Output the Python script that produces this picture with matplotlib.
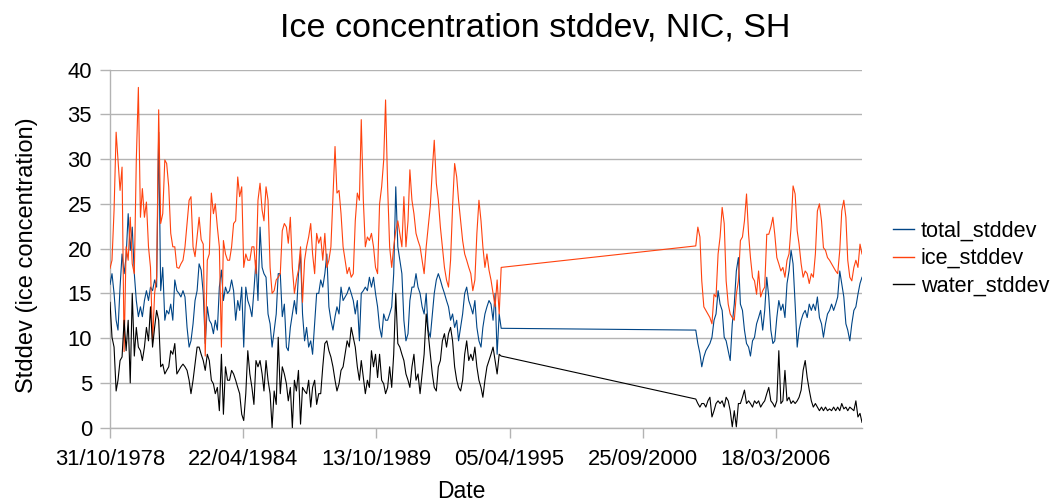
import matplotlib
matplotlib.use("Agg")
import matplotlib.pyplot as plt
import matplotlib.dates as mdates
import pandas as pd

plt.rcParams['font.family'] = ['Liberation Sans', 'DejaVu Sans']

# ---------------- data ----------------
# segment 1: monthly, Oct 1978 .. Nov 1994 ; segment 2: monthly, Nov 2002 .. Sep 2009
dates1 = pd.date_range('1978-10-31', periods=194, freq=pd.offsets.MonthEnd())
dates2 = pd.date_range('2002-11-30', periods=83, freq=pd.offsets.MonthEnd())

ice1 = [17.8, 18.7, 24.3, 33.0, 29.9, 26.5, 29.1, 8.5, 20.2, 18.7,
        23.5, 18.3, 17.2, 29.9, 38.0, 23.5, 26.7, 23.5, 25.2, 20.2,
        17.9, 9.5, 15.0, 16.8, 35.5, 22.8, 23.9, 29.9, 29.5, 26.9,
        21.7, 20.2, 20.2, 17.9, 17.8, 18.3, 18.7, 20.2, 22.8, 25.4,
        25.8, 20.2, 19.1, 21.3, 23.5,
        21.0, 20.5, 8.0, 18.7, 19.4, 26.2, 23.9, 25.0, 22.4, 20.2,
        9.0, 20.9, 19.4, 18.7, 18.7, 20.2, 22.8, 23.1, 28.0, 25.8,
        26.9, 17.9, 19.4, 18.7, 18.7, 20.2, 20.2, 17.2, 25.4, 27.3,
        24.3, 23.1, 26.9, 25.4, 17.9, 15.0, 15.3, 16.5, 16.8, 17.2,
        22.0, 22.8, 22.4, 20.6, 23.5, 17.9, 15.0, 16.5, 17.6,
        20.2, 14.0, 18.7, 20.2, 21.3, 22.8, 19.4, 17.2, 21.7, 20.6,
        21.3, 18.7, 21.7, 17.9, 18.7, 20.2, 25.8, 31.4, 26.2, 26.5,
        23.9, 20.2, 18.7, 17.2, 17.9, 16.8, 17.2, 23.1, 26.2, 25.4,
        34.4, 25.4, 20.2, 21.3, 20.9, 21.7, 20.2, 17.9, 17.2, 25.0,
        26.9, 29.9, 36.6, 26.9, 20.2, 17.9, 20.2, 22.0, 23.1,
        21.7, 20.2, 25.8, 20.2, 23.1, 28.8, 25.4, 23.9, 21.7, 20.9,
        20.2, 18.7, 17.2, 20.2, 22.4, 24.7, 28.8, 32.1, 27.3, 25.4,
        22.4, 20.2, 17.9, 16.5, 15.7, 18.7, 24.7, 29.5, 28.0, 25.4,
        23.1, 20.9, 19.4, 18.7, 17.9, 17.2, 15.3, 16.5, 21.7, 25.4,
        23.1, 20.2, 17.9, 19.4, 17.6, 16.5, 15.0, 13.5, 16.5, 12.7,
        17.9]
total1 = [16.0, 17.2, 15.0, 12.0, 10.9, 15.7, 19.4, 17.2, 19.1, 23.9,
          19.8, 22.4, 17.2, 14.2, 12.4, 13.5, 12.4, 14.2, 15.3, 14.2,
          15.7, 15.3, 16.5, 15.7, 33.0, 15.3, 17.9, 12.0, 13.1, 12.7,
          13.8, 12.0, 16.5, 15.3, 15.0, 14.6, 15.3, 14.6, 11.2, 9.0,
          9.7, 11.6, 14.2, 15.3, 18.3,
          17.6, 15.0, 9.4, 13.5, 12.0, 11.6, 10.5, 12.0, 10.9, 15.7,
          17.6, 14.2, 15.7, 15.0, 15.3, 16.5, 15.3, 12.0, 14.2, 13.1,
          15.7, 9.0, 15.7, 14.2, 13.5, 12.4, 15.3, 18.7, 14.2, 22.4,
          17.9, 17.2, 16.8, 12.7, 11.6, 9.0, 10.9, 12.7, 17.2, 17.2,
          12.4, 13.8, 9.0, 8.6, 11.2, 12.7, 14.2, 12.7, 17.2,
          19.4, 12.7, 9.7, 11.2, 9.0, 9.7, 8.2, 11.6, 15.0, 15.0,
          16.5, 15.7, 17.2, 19.4, 13.5, 12.0, 10.9, 12.4, 13.5, 12.7,
          15.7, 14.2, 14.6, 15.0, 15.7, 15.0, 14.2, 12.7, 14.2, 9.7,
          15.0, 15.3, 15.7, 15.3, 16.8, 15.7, 16.8, 15.0, 13.5, 11.2,
          10.1, 12.7, 12.0, 12.0, 12.7, 13.5, 17.2, 26.9, 20.2,
          18.7, 17.2, 12.0, 9.7, 10.5, 14.2, 15.7, 15.7, 17.2, 15.7,
          15.0, 13.5, 12.7, 15.0, 10.9, 10.1, 12.7, 15.0, 16.5, 17.2,
          16.5, 15.7, 15.0, 14.2, 13.5, 12.0, 12.7, 11.2, 12.0, 9.7,
          11.2, 12.7, 15.0, 15.7, 14.2, 13.5, 12.7, 14.2, 11.2, 9.7,
          9.0, 11.2, 12.7, 13.5, 14.2, 13.8, 12.0, 15.0, 8.2, 12.7,
          11.1]
water1 = [14.0, 10.1, 9.0, 4.1, 5.3, 7.5, 7.9, 12.0, 8.6, 12.0,
          5.0, 15.0, 8.0, 11.2, 9.0, 8.6, 7.5, 9.0, 11.2, 9.7,
          13.5, 9.0, 11.2, 13.1, 12.0, 6.8, 7.1, 6.0, 6.4, 6.8,
          8.6, 8.2, 9.4, 6.0, 6.4, 6.8, 7.1, 6.8, 6.4, 5.3,
          3.8, 5.3, 7.1, 9.0, 9.0,
          8.2, 7.5, 6.4, 8.2, 7.5, 5.3, 4.9, 3.8, 4.5, 1.9,
          8.2, 1.5, 6.8, 5.3, 5.3, 6.4, 6.0, 5.3, 4.5, 3.8,
          1.5, 0.8, 3.8, 8.6, 6.0, 4.5, 2.6, 7.5, 6.8, 7.5,
          6.0, 4.1, 7.5, 5.3, 3.8, 0.0, 4.1, 2.6, 10.1, 3.8,
          6.8, 6.0, 4.9, 3.0, 4.5, 0.0, 5.3, 4.1, 6.4,
          0.4, 4.5, 4.1, 3.8, 5.3, 2.3, 4.5, 5.3, 2.6, 3.8,
          3.8, 6.8, 9.4, 9.7, 8.6, 7.9, 6.8, 5.3, 4.1, 4.9,
          6.4, 6.8, 8.2, 9.7, 9.0, 11.2, 10.1, 9.0, 6.8, 5.3,
          7.5, 5.6, 3.8, 5.3, 4.5, 8.6, 6.8, 8.2, 5.6, 8.2,
          5.3, 4.9, 3.8, 4.5, 6.8, 4.5, 8.2, 15.0, 9.4,
          9.0, 8.2, 7.5, 6.0, 5.3, 4.5, 6.8, 8.2, 5.3, 6.0,
          3.8, 6.0, 8.2, 12.7, 10.5, 8.2, 6.0, 4.5, 4.1, 6.8,
          7.5, 9.7, 10.5, 9.0, 10.5, 11.2, 9.7, 6.8, 5.3, 4.5,
          4.1, 5.3, 8.2, 9.7, 7.5, 8.2, 7.5, 9.0, 6.8, 5.3,
          4.5, 3.4, 5.3, 6.8, 7.5, 8.2, 9.0, 7.5, 6.0, 8.2,
          8.0]

ice2 = [20.3, 22.4, 21.3, 16.4, 13.5, 13.1, 12.7, 12.3, 11.6, 14.9,
        14.6, 19.4, 21.3, 24.6, 22.8, 16.4, 13.8, 12.7, 12.3, 12.0,
        14.9, 16.4, 20.9, 21.3, 23.1, 26.1, 21.6, 19.0, 16.8, 16.4,
        14.9, 17.5, 14.6, 15.3, 15.7, 21.6, 21.6, 22.4, 23.5, 21.6,
        19.0, 18.3, 17.5, 17.9, 16.8, 18.7, 19.4, 22.4, 27.0, 26.1,
        22.0, 20.5, 18.3, 16.8, 17.5, 17.2, 16.1, 17.2, 16.8, 19.4,
        24.2, 25.0, 23.1, 20.1, 19.8, 19.0, 18.7, 18.3, 17.9, 17.5,
        17.2, 19.8, 24.2, 25.4, 23.5, 18.7, 16.8, 16.4, 17.9, 18.7,
        17.9, 20.5, 19.4]
total2 = [10.9, 9.4, 8.3, 6.8, 7.9, 8.6, 9.0, 9.4, 10.1, 12.0,
          12.7, 15.3, 13.8, 13.1, 10.1, 9.7, 8.6, 7.5, 11.6, 13.8,
          17.5, 19.0, 13.8, 13.1, 10.9, 9.4, 9.0, 8.0, 9.7, 10.1,
          11.6, 12.3, 13.1, 10.9, 13.1, 16.8, 14.6, 10.9, 9.4, 9.7,
          12.3, 14.2, 13.1, 13.8, 12.3, 16.1, 17.5, 19.8, 18.3, 13.8,
          9.0, 10.9, 12.0, 12.7, 13.1, 12.3, 13.8, 13.1, 13.8, 13.1,
          14.6, 12.3, 11.6, 10.1, 11.6, 12.7, 13.1, 13.8, 13.1, 13.8,
          14.6, 17.5, 16.1, 14.6, 11.6, 10.9, 9.7, 11.6, 13.1, 13.5,
          14.9, 16.1, 16.8]
water2 = [3.2, 2.7, 2.3, 2.7, 2.7, 2.3, 3.0, 3.4, 1.2, 1.9,
          2.7, 3.0, 2.7, 3.0, 2.3, 3.4, 3.0, 1.9, 0.1, 1.9,
          0.1, 2.7, 2.7, 3.4, 4.2, 2.7, 3.0, 2.7, 2.3, 3.0,
          2.7, 3.0, 2.3, 2.7, 3.0, 3.8, 4.5, 3.0, 2.7, 2.3,
          3.0, 8.6, 2.7, 3.0, 6.4, 3.0, 3.4, 2.7, 3.0, 2.7,
          3.0, 3.4, 4.2, 6.4, 7.5, 5.6, 4.2, 3.0, 2.3, 2.7,
          2.3, 1.9, 2.3, 1.9, 2.3, 1.9, 2.1, 1.9, 2.3, 1.9,
          2.3, 1.9, 2.7, 2.1, 2.3, 1.9, 2.3, 2.1, 1.9, 3.0,
          1.2, 1.6, 0.6]

series_names = ['total_stddev', 'ice_stddev', 'water_stddev']
series_colors = ['#004586', '#ff420e', '#000000']
tick_dates = ['1978-10-31', '1984-04-22', '1989-10-13', '1995-04-05',
              '2000-09-25', '2006-03-18']

# ---------------- figure ----------------
dates = dates1.append(dates2)
values = [total1 + total2, ice1 + ice2, water1 + water2]

W, H = 1053, 504
fig = plt.figure(figsize=(W / 100, H / 100), dpi=100)
ax = fig.add_axes([110 / W, (H - 427.7) / H, 752 / W, 358.2 / H])


def fx(px):
    return px / W


def fy(py):
    return 1 - py / H


grid_c = '#b3b3b3'
ax.grid(axis='y', color=grid_c, lw=1.0, zorder=0)
ax.set_axisbelow(True)

for name, col, vals in zip(series_names, series_colors, values):
    ax.plot(dates, vals, color=col, lw=0.8, label=name, zorder=3)

ax.set_xlim(pd.Timestamp('1978-10-31'), pd.Timestamp('2009-09-30'))
ax.set_ylim(0, 40)
ax.set_yticks(range(0, 41, 5))
ax.set_xticks([pd.Timestamp(d) for d in tick_dates])
ax.xaxis.set_major_formatter(mdates.DateFormatter('%d/%m/%Y'))

for s in ['top', 'right']:
    ax.spines[s].set_visible(False)
for s in ['left', 'bottom']:
    ax.spines[s].set_color(grid_c)
    ax.spines[s].set_linewidth(1.0)

ax.tick_params(axis='both', colors=grid_c, labelcolor='#000000',
               labelsize=15.8, length=7, width=1.0, direction='out')
ax.tick_params(axis='x', pad=8.5)
ax.tick_params(axis='y', pad=6)

fig.text(fx(461), fy(503), 'Date', fontsize=16.5, ha='center', va='bottom')
fig.text(fx(33.3), fy(255), 'Stddev (ice concentration)', fontsize=17,
         rotation=90, rotation_mode='anchor', ha='center', va='baseline')
fig.text(fx(535), fy(36.7), 'Ice concentration stddev, NIC, SH',
         fontsize=24.5, ha='center', va='baseline')

leg = ax.legend(loc='center left', bbox_to_anchor=(1.041, 0.472), frameon=False,
                fontsize=15.6, handlelength=1.0, handletextpad=0.3,
                labelspacing=0.28, borderaxespad=0, borderpad=0)
for line in leg.get_lines():
    line.set_linewidth(1.0)

fig.savefig('out.png', dpi=100)
